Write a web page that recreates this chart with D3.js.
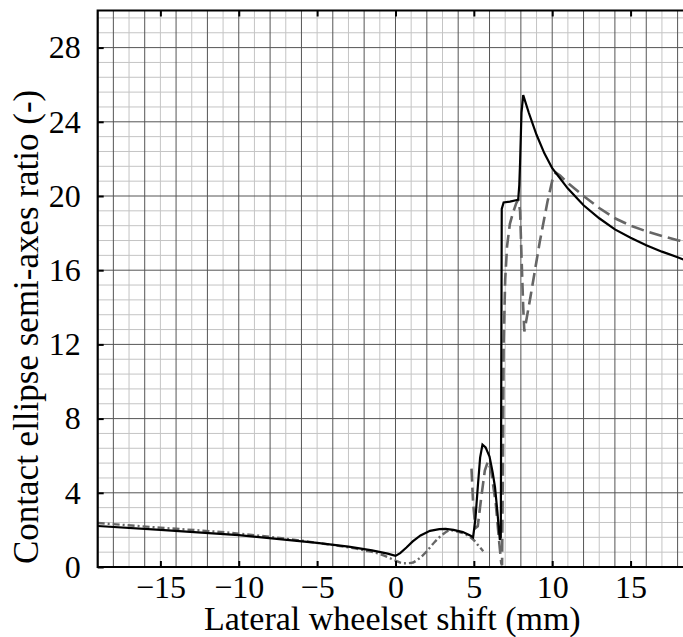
<!DOCTYPE html>
<html>
<head>
<meta charset="utf-8">
<script src="https://cdn.jsdelivr.net/npm/d3@7"></script>
<style>
  body { margin: 0; background: #fff; }
  svg { display: block; }
  text { font-family: "Liberation Serif", "DejaVu Serif", serif; fill: #000; }
</style>
</head>
<body>
<svg id="chart" width="683" height="637"></svg>
<script>
// solid black curve
var shiftA = [-19, -15, -10, -5, -3, -1.5, -0.5, 0, 0.3, 0.7, 1.1, 1.6, 2.2, 2.8, 3.2, 3.7, 4.3, 4.8, 4.95,
              5.1, 5.25, 5.4, 5.55, 5.75, 6.0, 6.2, 6.35, 6.5, 6.6, 6.66, 6.72, 6.78, 6.9, 7.3, 7.83, 7.9, 7.95, 8.04, 8.15,
              8.5, 9, 9.5, 10, 11, 12, 13, 14, 15, 16, 17, 18, 18.6];
var ratioA = [2.21, 2.0, 1.72, 1.3, 1.1, 0.9, 0.72, 0.6, 0.75, 1.05, 1.38, 1.7, 1.95, 2.04, 2.05, 2.0, 1.88, 1.68, 1.6,
              2.6, 4.3, 5.9, 6.6, 6.45, 5.95, 5.1, 4.3, 3.0, 2.0, 1.46, 1.6, 19.3, 19.65, 19.7, 19.8, 20.6, 21.8, 24.5, 25.44,
              24.5, 23.3, 22.3, 21.5, 20.4, 19.5, 18.8, 18.2, 17.75, 17.35, 17.0, 16.7, 16.5];

// long-dash grey curve
var shiftB = [4.85, 4.95, 5.1, 5.25, 5.45, 5.7, 5.9, 6.1, 6.4, 6.6, 6.75, 6.8, 6.85, 6.9, 7.0, 7.12, 7.3, 7.5, 7.7, 7.83,
              7.95, 8.05, 8.15, 8.22, 8.6, 9.2, 9.7, 10.05, 10.23, 10.5, 11, 12, 13, 14, 15, 16, 17, 18, 18.6];
var ratioB = [5.3, 3.5, 2.1, 2.2, 3.6, 5.2, 5.7, 5.2, 3.4, 1.5, 0.2, 0.1, 5.0, 12.0, 15.5, 17.3, 18.5, 19.1, 19.6, 19.8,
              19.2, 16.5, 14.0, 12.7, 14.5, 17.5, 19.7, 21.0, 21.26, 21.1, 20.7, 20.0, 19.35, 18.8, 18.4, 18.1, 17.85, 17.62, 17.5];

// dash-dot grey curve
var shiftC = [-19, -15, -10, -5, -2, -1, 0, 0.5, 1, 1.5, 2, 2.5, 3, 3.5, 4, 4.5, 5, 5.3, 5.6];
var ratioC = [2.37, 2.12, 1.8, 1.3, 0.9, 0.7, 0.35, 0.2, 0.22, 0.45, 0.85, 1.35, 1.75, 1.98, 1.9, 1.75, 1.45, 1.15, 0.85];

var xTicks = [-15, -10, -5, 0, 5, 10, 15];
var yTicks = [0, 4, 8, 12, 16, 20, 24, 28];

var pLeft = 97.7, pRight = 687, pTop = 10.5, pBottom = 567;

var svg = d3.select("#chart");

var x = d3.scaleLinear().domain([-19, 18.6]).range([pLeft, pRight]);
var y = d3.scaleLinear().domain([0, 30]).range([pBottom, pTop]);

var grid = svg.append("g");

// minor grid
var minorX = d3.range(-19, 19).filter(function(d) { return d % 2 !== 0; });
var minorY = d3.range(0, 38).map(function(i) { return +(i * 0.8).toFixed(1); })
    .filter(function(d) { return d % 4 !== 0; });

grid.selectAll(".mx").data(minorX).enter().append("line")
    .attr("x1", function(d) { return x(d); }).attr("x2", function(d) { return x(d); })
    .attr("y1", pTop).attr("y2", pBottom)
    .attr("stroke", "#c4c4c4").attr("stroke-width", 1);
grid.selectAll(".my").data(minorY).enter().append("line")
    .attr("y1", function(d) { return y(d); }).attr("y2", function(d) { return y(d); })
    .attr("x1", pLeft).attr("x2", pRight)
    .attr("stroke", "#c4c4c4").attr("stroke-width", 1);

// major grid
var majorX = d3.range(-18, 19, 2);
var majorY = d3.range(4, 30, 4);
grid.selectAll(".Mx").data(majorX).enter().append("line")
    .attr("x1", function(d) { return x(d); }).attr("x2", function(d) { return x(d); })
    .attr("y1", pTop).attr("y2", pBottom)
    .attr("stroke", "#555").attr("stroke-width", 1);
grid.selectAll(".My").data(majorY).enter().append("line")
    .attr("y1", function(d) { return y(d); }).attr("y2", function(d) { return y(d); })
    .attr("x1", pLeft).attr("x2", pRight)
    .attr("stroke", "#555").attr("stroke-width", 1);

// curves
var smooth = d3.line()
    .x(function(d) { return x(d[0]); })
    .y(function(d) { return y(d[1]); })
    .curve(d3.curveMonotoneX);
var straight = d3.line()
    .x(function(d) { return x(d[0]); })
    .y(function(d) { return y(d[1]); });

function pairs(xs, ys) { return xs.map(function(v, i) { return [v, ys[i]]; }); }

var plot = svg.append("g");
plot.append("path").datum(pairs(shiftC, ratioC))
    .attr("d", smooth).attr("fill", "none")
    .attr("stroke", "#666").attr("stroke-width", 2.4)
    .attr("stroke-dasharray", "7,3,2,3");
plot.append("path").datum(pairs(shiftB, ratioB))
    .attr("d", straight).attr("fill", "none")
    .attr("stroke", "#666").attr("stroke-width", 2.6)
    .attr("stroke-dasharray", "13,6");
plot.append("path").datum(pairs(shiftA, ratioA))
    .attr("d", straight).attr("fill", "none")
    .attr("stroke", "#000").attr("stroke-width", 2.2);

// axes (ticks point inward)
svg.append("g").attr("transform", "translate(0," + pBottom + ")")
    .call(d3.axisBottom(x).tickValues(xTicks).tickSize(-6).tickPadding(8).tickFormat(d3.format("d")))
    .call(function(g) { g.select(".domain").remove(); });
svg.append("g").attr("transform", "translate(0," + pTop + ")")
    .call(d3.axisTop(x).tickValues(xTicks).tickSize(-6).tickFormat(""))
    .call(function(g) { g.select(".domain").remove(); });
svg.append("g").attr("transform", "translate(" + pLeft + ",0)")
    .call(d3.axisLeft(y).tickValues(yTicks).tickSize(-6).tickPadding(17).tickFormat(d3.format("d")))
    .call(function(g) { g.select(".domain").remove(); });

svg.selectAll(".tick line").attr("stroke", "#000").attr("stroke-width", 2);
svg.selectAll(".tick text").attr("font-size", 32).attr("font-family", "Liberation Serif");

// frame
svg.append("path")
    .attr("d", "M" + (pRight + 5) + "," + pTop + "H" + pLeft + "V" + pBottom + "H" + (pRight + 5))
    .attr("fill", "none").attr("stroke", "#000").attr("stroke-width", 2.2);

// labels
svg.append("text")
    .attr("x", (pLeft + pRight) / 2).attr("y", 630)
    .attr("text-anchor", "middle").attr("font-size", 34)
    .text("Lateral wheelset shift (mm)");
svg.append("text")
    .attr("transform", "translate(38,564) rotate(-90)")
    .attr("text-anchor", "start").attr("font-size", 35)
    .text("Contact ellipse semi-axes ratio (-)");
</script>
</body>
</html>
